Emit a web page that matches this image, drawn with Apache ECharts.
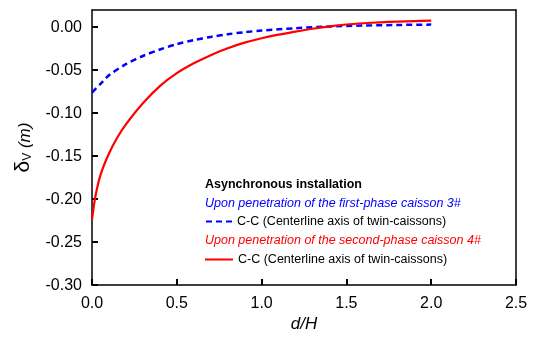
<!DOCTYPE html>
<html>
<head>
<meta charset="utf-8">
<script src="https://cdn.jsdelivr.net/npm/echarts@6/dist/echarts.min.js"></script>
<style>
  html, body { margin: 0; padding: 0; background: #fff; }
  #chart { width: 534px; height: 338px; }
</style>
</head>
<body>
<div id="chart"></div>
<script>
// Normalised distance d/H and vertical displacement (m) along the C-C axis
const dHFirst = [0, 0.05, 0.1, 0.2, 0.3, 0.4, 0.5, 0.6, 0.7, 0.8, 0.9, 1.0, 1.2, 1.4, 1.6, 1.8, 2.0];
const dispFirst = [-0.076, -0.066, -0.056, -0.043, -0.0335, -0.026, -0.0198, -0.015, -0.0113, -0.0082, -0.0058, -0.0039, -0.0012, 0.0008, 0.0019, 0.0026, 0.003];

const dHSecond = [0, 0.02, 0.05, 0.1, 0.15, 0.2, 0.3, 0.4, 0.5, 0.6, 0.7, 0.8, 0.9, 1.0, 1.1, 1.2, 1.3, 1.4, 1.5, 1.6, 1.7, 1.8, 1.9, 2.0];
const dispSecond = [-0.224, -0.197, -0.172, -0.147, -0.128, -0.113, -0.0885, -0.0685, -0.0535, -0.042, -0.0325, -0.0245, -0.018, -0.0128, -0.0086, -0.0052, -0.0018, 0.0009, 0.0031, 0.0046, 0.0057, 0.0065, 0.0071, 0.0076];

const legendText = 'C-C (Centerline axis of twin-caissons)';
const nameFirst = 'Caisson 3# C-C';
const nameSecond = 'Caisson 4# C-C';

const pairs = (xs, ys) => xs.map((x, i) => [x, ys[i]]);

const FONT = '"Liberation Sans", Arial, sans-serif';

const chart = echarts.init(document.getElementById('chart'), null, { renderer: 'canvas' });

chart.setOption({
  animation: false,
  grid: { left: 92, right: 18, top: 10, bottom: 51 },
  xAxis: [
    {
      type: 'value', position: 'bottom', min: 0, max: 2.5, interval: 0.5,
      name: 'd/H', nameLocation: 'middle', nameGap: 30,
      nameTextStyle: { fontFamily: FONT, fontSize: 17, fontStyle: 'italic', color: '#000' },
      axisLine: { show: true, onZero: false, lineStyle: { color: '#000', width: 1.5 } },
      axisTick: { show: true, inside: true, length: 6, lineStyle: { color: '#000', width: 2 } },
      axisLabel: { fontFamily: FONT, fontSize: 16, color: '#000', margin: 10, formatter: v => v.toFixed(1) },
      splitLine: { show: false }
    },
    {
      type: 'value', position: 'top', min: 0, max: 2.5,
      axisLine: { show: true, onZero: false, lineStyle: { color: '#000', width: 1.5 } },
      axisTick: { show: false }, axisLabel: { show: false }, splitLine: { show: false }
    }
  ],
  yAxis: [
    {
      type: 'value', position: 'left', min: -0.30, max: 0.02, interval: 0.05,
      name: '{d|δ}{s|V}{m| (m)}', nameLocation: 'middle', nameGap: 58, nameRotate: 90,
      nameTextStyle: {
        color: '#000',
        rich: {
          d: { fontFamily: FONT, fontSize: 21, color: '#000', verticalAlign: 'bottom', lineHeight: 24 },
          s: { fontFamily: FONT, fontSize: 12, color: '#000', verticalAlign: 'bottom', lineHeight: 20 },
          m: { fontFamily: FONT, fontSize: 17, fontStyle: 'italic', color: '#000', verticalAlign: 'bottom', lineHeight: 24 }
        }
      },
      axisLine: { show: true, onZero: false, lineStyle: { color: '#000', width: 1.5 } },
      axisTick: { show: true, inside: true, length: 6, lineStyle: { color: '#000', width: 2 } },
      axisLabel: { fontFamily: FONT, fontSize: 16, color: '#000', margin: 10, showMaxLabel: false,
        formatter: v => v.toFixed(2) },
      splitLine: { show: false }
    },
    {
      type: 'value', position: 'right', min: -0.30, max: 0.02,
      axisLine: { show: true, onZero: false, lineStyle: { color: '#000', width: 1.5 } },
      axisTick: { show: false }, axisLabel: { show: false }, splitLine: { show: false }
    }
  ],
  legend: [
    {
      data: [nameFirst], left: 205, top: 215, padding: 0, itemWidth: 26, itemHeight: 14,
      itemStyle: { opacity: 0 },
      formatter: () => legendText,
      textStyle: { fontFamily: FONT, fontSize: 12.5, color: '#000' }
    },
    {
      data: [nameSecond], left: 204, top: 253, padding: 0, itemWidth: 28, itemHeight: 14,
      itemStyle: { opacity: 0 },
      formatter: () => legendText,
      textStyle: { fontFamily: FONT, fontSize: 12.5, color: '#000' }
    }
  ],
  graphic: [
    { type: 'text', left: 205, top: 178,
      style: { text: 'Asynchronous installation', fontFamily: FONT, fontSize: 12.5, fontWeight: 'bold', fill: '#000' } },
    { type: 'text', left: 205, top: 197,
      style: { text: 'Upon penetration of the first-phase caisson 3#', fontFamily: FONT, fontSize: 12.5, fontStyle: 'italic', fill: '#0000ff' } },
    { type: 'text', left: 205, top: 234,
      style: { text: 'Upon penetration of the second-phase caisson 4#', fontFamily: FONT, fontSize: 12.5, fontStyle: 'italic', fill: '#ff0000' } }
  ],
  series: [
    {
      name: nameFirst, type: 'line', data: pairs(dHFirst, dispFirst),
      smooth: 0.3, symbol: 'none', z: 2,
      lineStyle: { color: '#0000ff', width: 2.5, type: [6, 4] },
      itemStyle: { color: '#0000ff' }
    },
    {
      name: nameSecond, type: 'line', data: pairs(dHSecond, dispSecond),
      smooth: 0.3, symbol: 'none', z: 3,
      lineStyle: { color: '#ff0000', width: 2.2 },
      itemStyle: { color: '#ff0000' }
    }
  ]
});
</script>
</body>
</html>
